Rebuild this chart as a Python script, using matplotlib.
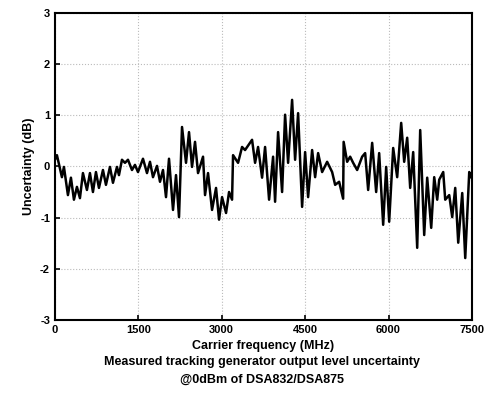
import matplotlib
matplotlib.use("Agg")
import matplotlib.pyplot as plt
import numpy as np

plt.rcParams['font.family'] = ['Liberation Sans', 'DejaVu Sans']
plt.rcParams['axes.unicode_minus'] = False

freq = [0, 36, 126, 162, 234, 288, 342, 396, 450, 504, 576, 630, 684, 738, 792, 864, 918, 990,
        1044, 1116, 1152, 1206, 1260, 1314, 1386, 1440, 1494, 1584, 1656, 1710, 1764, 1836, 1890,
        1944, 1998, 2052, 2124, 2178, 2232, 2286, 2358, 2412, 2466, 2520, 2574, 2664, 2700, 2754,
        2826, 2898, 2952, 3006, 3078, 3132, 3186, 3204, 3294, 3366, 3420, 3546, 3600, 3654, 3726,
        3780, 3852, 3924, 3960, 4014, 4086, 4140, 4194, 4266, 4320, 4374, 4446, 4500, 4554, 4626,
        4680, 4734, 4806, 4896, 4986, 5040, 5112, 5184, 5193, 5256, 5310, 5364, 5436, 5526, 5580,
        5634, 5706, 5778, 5832, 5904, 5958, 6012, 6084, 6156, 6228, 6282, 6336, 6390, 6444, 6516,
        6570, 6642, 6696, 6768, 6822, 6876, 6912, 6984, 7020, 7092, 7146, 7200, 7254, 7326, 7380,
        7452, 7488]
unc = [0.13, 0.22, -0.21, -0.01, -0.56, -0.22, -0.65, -0.40, -0.62, -0.13, -0.46, -0.13, -0.50,
       -0.11, -0.42, -0.07, -0.36, -0.01, -0.32, -0.01, -0.17, 0.13, 0.07, 0.13, -0.07, 0.03,
       -0.11, 0.15, -0.13, 0.09, -0.21, 0.01, -0.30, -0.07, -0.60, 0.15, -0.85, -0.17, -0.99,
       0.77, 0.07, 0.67, -0.01, 0.48, -0.13, 0.19, -0.56, -0.13, -0.85, -0.42, -1.04, -0.60,
       -0.91, -0.50, -0.65, 0.22, 0.07, 0.38, 0.32, 0.52, 0.07, 0.38, -0.22, 0.38, -0.65, 0.19,
       -0.69, 0.67, -0.50, 1.01, 0.07, 1.30, 0.13, 1.04, -0.79, 0.28, -0.60, 0.32, -0.21, 0.26,
       -0.11, 0.09, -0.11, -0.36, -0.30, -0.63, 0.48, 0.09, 0.19, 0.07, -0.07, 0.19, 0.26, -0.46,
       0.46, -0.50, 0.26, -1.14, -0.01, -1.08, 0.36, -0.21, 0.85, 0.09, 0.56, -0.42, 0.28, -1.59,
       0.71, -1.34, -0.22, -1.20, -0.21, -0.65, -0.26, -0.11, -0.65, -0.56, -0.99, -0.42, -1.49,
       -0.52, -1.79, -0.11, -0.21]

fig = plt.figure(figsize=(4.86, 4.01), dpi=100)
ax = fig.add_axes([0.113, 0.202, 0.858, 0.766])
ax.plot(freq, unc, color='black', linewidth=1.8, solid_joinstyle='round')
ax.set_xlim(0, 7500)
ax.set_ylim(-3, 3)
ax.set_xticks([0, 1500, 3000, 4500, 6000, 7500])
ax.set_yticks([-3, -2, -1, 0, 1, 2, 3])
ax.grid(True, linestyle=':', color='#bbbbbb', linewidth=0.8)
ax.tick_params(direction='in', labelsize=8, width=1.2)
for lab in ax.get_xticklabels() + ax.get_yticklabels():
    lab.set_fontweight('bold')
for s in ax.spines.values():
    s.set_linewidth(1.5)
ax.set_xlabel('Carrier frequency (MHz)', fontsize=9, fontweight='bold', labelpad=4)
ax.set_ylabel('Uncertainty (dB)', fontsize=9, fontweight='bold')
fig.text(0.54, 0.075, 'Measured tracking generator output level uncertainty\n@0dBm of DSA832/DSA875',
         ha='center', va='center', fontsize=9, fontweight='bold', linespacing=1.6)
fig.savefig('out.png', dpi=100)
